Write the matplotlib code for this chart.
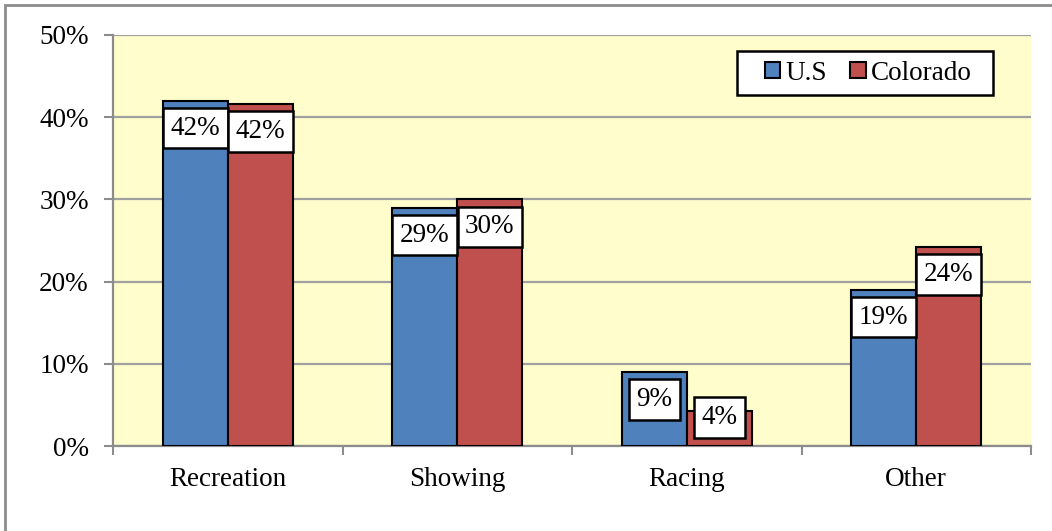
import matplotlib
matplotlib.use("Agg")
import matplotlib.pyplot as plt
from matplotlib.patches import Patch, Rectangle
from matplotlib.ticker import FixedLocator, PercentFormatter

plt.rcParams['font.family'] = ['Liberation Serif', 'DejaVu Serif']

categories = ["Recreation", "Showing", "Racing", "Other"]
us_values = [42.0, 29.0, 9.0, 19.0]
colorado_values = [41.6, 30.0, 4.2, 24.2]
series_names = ["U.S", "Colorado"]
y_ticks = [0, 10, 20, 30, 40, 50]

blue = "#4F81BD"
red = "#C0504D"
grid_gray = "#A0A0A0"
fs = 19.5

fig = plt.figure(figsize=(10.52, 5.31), dpi=100)
ax_h_px = 411
ax = fig.add_axes([113 / 1052, 1 - 446 / 531, 918 / 1052, ax_h_px / 531])
ax.set_facecolor("#FFFDCC")

# outer chart-area border (extends past the right and bottom edges)
fig.patches.append(Rectangle((5 / 1052, -0.1), 1.2, 1.1 - 5 / 531,
                             transform=fig.transFigure, fill=False,
                             edgecolor="#8C8C8C", linewidth=2.0, zorder=0))

w = 0.284
x = list(range(len(categories)))
bars_us = ax.bar([i - w / 2 for i in x], us_values, width=w, color=blue,
                 edgecolor="black", linewidth=1.5, zorder=3)
bars_co = ax.bar([i + w / 2 for i in x], colorado_values, width=w, color=red,
                 edgecolor="black", linewidth=1.5, zorder=3)

ymax = 50
px_per_unit = ax_h_px / ymax
for bars, vals in ((bars_us, us_values), (bars_co, colorado_values)):
    for b, v in zip(bars, vals):
        # label sits just inside the bar top, but never drops below the axis
        top_px = v * px_per_unit
        centre_px = max(top_px - 27.5, 28.5)
        ax.annotate(f"{v:.0f}%", xy=(b.get_x() + b.get_width() / 2, v),
                    xytext=(0, centre_px - top_px), textcoords="offset pixels",
                    ha="center", va="center", fontsize=fs, zorder=5,
                    bbox=dict(boxstyle="square,pad=0.28", facecolor="white",
                              edgecolor="black", linewidth=1.8))

ax.set_xlim(-0.5, 3.5)
ax.set_ylim(0, ymax)
ax.set_yticks(y_ticks)
ax.yaxis.set_major_formatter(PercentFormatter(decimals=0))
ax.yaxis.grid(True, color=grid_gray, linewidth=1.6, zorder=0)
ax.set_axisbelow(True)

ax.xaxis.set_major_locator(FixedLocator([-0.5, 0.5, 1.5, 2.5, 3.5]))
ax.xaxis.set_major_formatter(plt.NullFormatter())
ax.xaxis.set_minor_locator(FixedLocator(x))
ax.set_xticklabels(categories, minor=True)
ax.tick_params(axis="x", which="major", length=6.5, width=1.5, color="#8C8C8C")
ax.tick_params(axis="x", which="minor", length=0, pad=15, labelsize=fs)
ax.tick_params(axis="y", length=6.5, width=1.5, color="#8C8C8C", pad=11,
               labelsize=fs)

for side in ("top", "right"):
    ax.spines[side].set_visible(False)
for side in ("left", "bottom"):
    ax.spines[side].set_color("#8C8C8C")
    ax.spines[side].set_linewidth(1.6)

# legend frame drawn separately so its padding can be set per side
ax.add_patch(Rectangle((0.6797, 0.854), 0.2789, 0.107, transform=ax.transAxes,
                       facecolor="white", edgecolor="black", linewidth=1.8,
                       zorder=6))
handles = [Patch(facecolor=blue, edgecolor="black", linewidth=1.5),
           Patch(facecolor=red, edgecolor="black", linewidth=1.5)]
leg = ax.legend(handles, series_names, loc="center",
                bbox_to_anchor=(0.823, 0.9075), ncol=2, fontsize=fs,
                frameon=False, borderaxespad=0, borderpad=0,
                handlelength=0.56, handleheight=0.56, handletextpad=0.2,
                columnspacing=0.85)
leg.set_zorder(7)

fig.savefig("out.png", dpi=100)
